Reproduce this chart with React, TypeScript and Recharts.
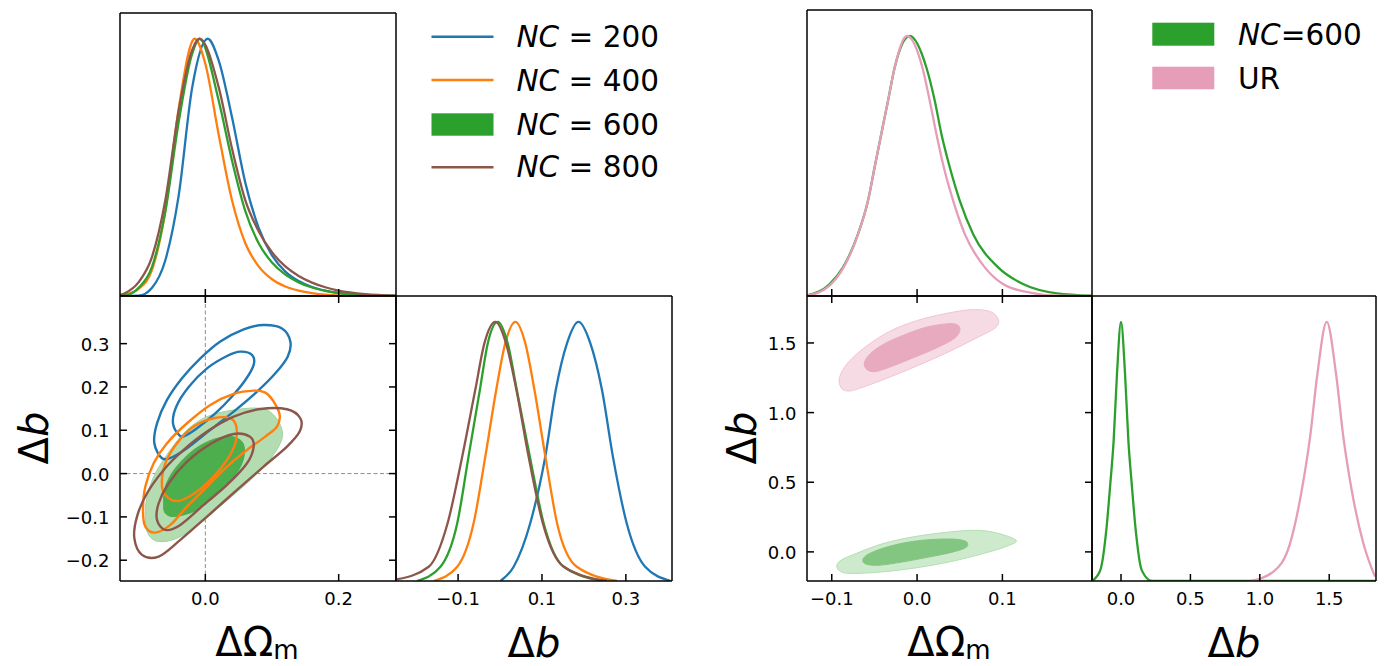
import React from 'react';
import { ComposedChart, Line, Scatter, XAxis, YAxis, ReferenceLine } from 'recharts';

type Pt = [number, number];
const FONT = '"DejaVu Sans", sans-serif';
const BLUE = '#1f77b4';
const ORANGE = '#ff7f0e';
const GREEN = '#2ca02c';
const BROWN = '#8c564b';
const PINK = '#e69db7';

// ---------- Left figure: 1D marginal of ΔΩm ----------
const omL_nc200: Pt[] = [[-0.128, 0], [-0.1, 0.001], [-0.08, 0.032], [-0.06, 0.139], [-0.04, 0.39], [-0.02, 0.806], [0.0035, 1], [0.02, 0.916], [0.04, 0.695], [0.06, 0.44], [0.08, 0.265], [0.1, 0.158], [0.12, 0.095], [0.14, 0.058], [0.16, 0.035], [0.18, 0.021], [0.2, 0.012], [0.24, 0.004], [0.286, 0]];
const omL_nc400: Pt[] = [[-0.128, 0.003], [-0.12, 0.006], [-0.1, 0.028], [-0.08, 0.102], [-0.06, 0.329], [-0.04, 0.728], [-0.016, 1], [0, 0.903], [0.02, 0.628], [0.04, 0.372], [0.06, 0.205], [0.08, 0.115], [0.1, 0.065], [0.12, 0.037], [0.14, 0.021], [0.16, 0.011], [0.18, 0.005], [0.22, 0.001], [0.286, 0]];
const omL_nc600: Pt[] = [[-0.128, 0.001], [-0.12, 0.002], [-0.1, 0.032], [-0.08, 0.113], [-0.06, 0.329], [-0.04, 0.676], [-0.02, 0.94], [-0.0085, 1], [0.02, 0.76], [0.04, 0.527], [0.06, 0.33], [0.08, 0.205], [0.1, 0.13], [0.12, 0.083], [0.14, 0.053], [0.16, 0.033], [0.18, 0.02], [0.2, 0.011], [0.24, 0.003], [0.286, 0]];
const omL_nc800: Pt[] = [[-0.128, 0.004], [-0.12, 0.012], [-0.1, 0.054], [-0.08, 0.152], [-0.06, 0.372], [-0.04, 0.72], [-0.02, 0.955], [-0.0085, 1], [0.02, 0.812], [0.04, 0.573], [0.06, 0.372], [0.08, 0.252], [0.1, 0.17], [0.12, 0.115], [0.14, 0.078], [0.16, 0.052], [0.18, 0.034], [0.2, 0.021], [0.24, 0.007], [0.286, 0.001]];

// ---------- Left figure: 1D marginal of Δb ----------
const bL_nc200: Pt[] = [[0.001, 0], [0.0325, 0.055], [0.072, 0.223], [0.108, 0.481], [0.133, 0.738], [0.16, 0.919], [0.187, 1], [0.215, 0.919], [0.243, 0.738], [0.269, 0.481], [0.302, 0.223], [0.346, 0.055], [0.406, 0.001]];
const bL_nc400: Pt[] = [[-0.158, 0], [-0.102, 0.055], [-0.063, 0.223], [-0.035, 0.481], [-0.009, 0.738], [0.0127, 0.919], [0.0365, 1], [0.06, 0.919], [0.082, 0.738], [0.108, 0.481], [0.136, 0.223], [0.183, 0.055], [0.279, 0]];
const bL_nc600: Pt[] = [[-0.198, 0], [-0.142, 0.055], [-0.102, 0.223], [-0.075, 0.481], [-0.048, 0.738], [-0.029, 0.919], [-0.0056, 1], [0.018, 0.919], [0.04, 0.738], [0.071, 0.481], [0.104, 0.223], [0.152, 0.055], [0.247, 0]];
const bL_nc800: Pt[] = [[-0.2476, 0.006], [-0.17, 0.055], [-0.125, 0.223], [-0.09, 0.481], [-0.059, 0.738], [-0.037, 0.919], [-0.011, 1], [0.014, 0.919], [0.039, 0.738], [0.068, 0.481], [0.102, 0.223], [0.152, 0.055], [0.255, 0]];

// ---------- Left figure: 2D contours (ΔΩm, Δb) ----------
const cL_nc200_outer: Pt[] = [[-0.065, 0.0354], [-0.0765, 0.07], [-0.0725, 0.116], [-0.0575, 0.17], [-0.035, 0.22], [-0.0075, 0.266], [0.0225, 0.305], [0.0575, 0.333], [0.0875, 0.343], [0.115, 0.335], [0.1275, 0.305], [0.1235, 0.27], [0.105, 0.2315], [0.0775, 0.189], [0.0425, 0.143], [0.0075, 0.101], [-0.0275, 0.0585], [-0.05, 0.0377]];
const cL_nc200_inner: Pt[] = [[-0.0385, 0.0877], [-0.0485, 0.116], [-0.0435, 0.155], [-0.025, 0.2], [0.0025, 0.243], [0.0325, 0.2715], [0.0525, 0.2815], [0.07, 0.274], [0.0725, 0.251], [0.06, 0.216], [0.04, 0.178], [0.015, 0.139], [-0.0125, 0.1046], [-0.03, 0.0877]];
const cL_nc400_outer: Pt[] = [[-0.0935, -0.0838], [-0.09, -0.03], [-0.0775, 0.0238], [-0.0575, 0.07], [-0.0275, 0.1162], [0.0075, 0.1585], [0.0425, 0.1838], [0.0725, 0.1915], [0.09, 0.1869], [0.1025, 0.1662], [0.1115, 0.1354], [0.1075, 0.1085], [0.09, 0.0854], [0.0625, 0.0546], [0.0325, 0.0162], [0.0025, -0.03], [-0.0275, -0.0762], [-0.0525, -0.1185], [-0.075, -0.1362], [-0.09, -0.1223]];
const cL_nc400_inner: Pt[] = [[-0.065, -0.03], [-0.06, 0.0238], [-0.0425, 0.07], [-0.0175, 0.1085], [0.0125, 0.1277], [0.0375, 0.1277], [0.0465, 0.1085], [0.045, 0.07], [0.0325, 0.0315], [0.0125, -0.0069], [-0.0125, -0.0415], [-0.0375, -0.0623], [-0.055, -0.0569]];
const cL_nc600_outer: Pt[] = [[-0.09, -0.1069], [-0.0875, -0.0531], [-0.075, 0.0008], [-0.0525, 0.0546], [-0.0275, 0.1008], [0.0025, 0.1315], [0.0425, 0.1469], [0.0825, 0.1508], [0.1025, 0.1354], [0.115, 0.1008], [0.1125, 0.07], [0.0925, 0.0238], [0.0625, -0.0223], [0.0275, -0.0685], [-0.0075, -0.1146], [-0.0425, -0.1492], [-0.07, -0.1569], [-0.085, -0.1415]];
const cL_nc600_inner: Pt[] = [[-0.0625, -0.0685], [-0.06, -0.03], [-0.045, 0.0123], [-0.0175, 0.0546], [0.0125, 0.0792], [0.04, 0.0854], [0.0565, 0.07], [0.0575, 0.0354], [0.045, -0.0031], [0.0175, -0.0454], [-0.0125, -0.0838], [-0.045, -0.0992], [-0.06, -0.0915]];
const cL_nc800_outer: Pt[] = [[-0.1065, -0.1492], [-0.1025, -0.0992], [-0.0875, -0.0454], [-0.0625, 0.0085], [-0.0325, 0.0546], [0.0025, 0.0969], [0.0425, 0.1315], [0.0825, 0.1492], [0.1225, 0.1485], [0.1425, 0.1277], [0.1415, 0.0969], [0.1225, 0.0623], [0.0875, 0.0162], [0.0475, -0.0377], [0.0025, -0.0992], [-0.0375, -0.1531], [-0.07, -0.1915], [-0.095, -0.1877]];
const cL_nc800_inner: Pt[] = [[-0.0725, -0.1069], [-0.07, -0.0685], [-0.055, -0.0223], [-0.0275, 0.0277], [0.0075, 0.0685], [0.0425, 0.0915], [0.0665, 0.0854], [0.0725, 0.0623], [0.0625, 0.0238], [0.0325, -0.0262], [-0.0025, -0.0723], [-0.0375, -0.1185], [-0.06, -0.13]];

// ---------- Right figure ----------
const omR_nc600: Pt[] = [[-0.129, 0.002], [-0.1027, 0.045], [-0.087, 0.109], [-0.0694, 0.237], [-0.0576, 0.365], [-0.0498, 0.494], [-0.042, 0.622], [-0.0341, 0.75], [-0.0263, 0.878], [-0.0086, 1], [0.011, 0.878], [0.0208, 0.75], [0.0286, 0.622], [0.0384, 0.494], [0.0502, 0.365], [0.0659, 0.237], [0.0953, 0.109], [0.1247, 0.045], [0.164, 0.01], [0.205, 0.001]];
const omR_ur: Pt[] = [[-0.129, 0.001], [-0.1027, 0.04], [-0.087, 0.105], [-0.0694, 0.235], [-0.0576, 0.365], [-0.0498, 0.494], [-0.042, 0.622], [-0.0341, 0.75], [-0.0263, 0.878], [-0.0118, 1], [0.0063, 0.878], [0.0149, 0.75], [0.0227, 0.622], [0.0314, 0.494], [0.0424, 0.365], [0.0561, 0.237], [0.0796, 0.109], [0.1012, 0.045], [0.1325, 0.013], [0.164, 0.001], [0.205, 0]];
const bR_nc600: Pt[] = [[-0.209, 0], [-0.149, 0.042], [-0.106, 0.196], [-0.077, 0.376], [-0.053, 0.542], [-0.029, 0.8], [0, 1], [0.029, 0.8], [0.053, 0.542], [0.077, 0.376], [0.106, 0.196], [0.149, 0.042], [0.223, 0], [1.837, 0]];
const bR_ur: Pt[] = [[0.93, 0], [1.098, 0.036], [1.218, 0.145], [1.302, 0.35], [1.362, 0.555], [1.415, 0.8], [1.482, 1], [1.549, 0.8], [1.602, 0.555], [1.662, 0.35], [1.746, 0.145], [1.83, 0.017]];
const cR_ur_outer: Pt[] = [[-0.089, 1.1786], [-0.091, 1.25], [-0.0812, 1.357], [-0.0596, 1.476], [-0.0322, 1.583], [-0.0008, 1.6595], [0.0306, 1.707], [0.062, 1.738], [0.0855, 1.726], [0.0953, 1.667], [0.0914, 1.607], [0.0698, 1.536], [0.0345, 1.4286], [-0.0008, 1.3333], [-0.0361, 1.245], [-0.0675, 1.174], [-0.0812, 1.155]];
const cR_ur_inner: Pt[] = [[-0.0616, 1.333], [-0.0576, 1.405], [-0.04, 1.488], [-0.0125, 1.564], [0.0149, 1.619], [0.0424, 1.638], [0.0502, 1.602], [0.0443, 1.536], [0.0227, 1.464], [-0.0047, 1.393], [-0.0322, 1.326], [-0.0518, 1.293]];
const cR_nc600_outer: Pt[] = [[-0.0941, -0.1024], [-0.089, -0.0595], [-0.0714, -0.0119], [-0.04, 0.0595], [-0.0008, 0.1119], [0.0384, 0.1429], [0.0698, 0.1548], [0.0933, 0.1357], [0.1161, 0.0833], [0.1051, 0.0405], [0.0776, -0.0119], [0.0384, -0.0714], [-0.0008, -0.1143], [-0.04, -0.1429], [-0.0753, -0.1548], [-0.089, -0.1429]];
const cR_nc600_inner: Pt[] = [[-0.0635, -0.0548], [-0.0557, -0.0119], [-0.0322, 0.0405], [-0.0008, 0.0786], [0.0345, 0.0929], [0.0561, 0.0786], [0.058, 0.0357], [0.0424, 0], [0.0149, -0.0357], [-0.0165, -0.0714], [-0.0439, -0.0952], [-0.0596, -0.0881]];

// ---------- axes ----------
const omL_domain: [number, number] = [-0.128, 0.286];
const bL_domain: [number, number] = [-0.248, 0.41];
const omR_domain: [number, number] = [-0.129, 0.205];
const bR_domain: [number, number] = [-0.209, 1.837];
const pdf_domain: [number, number] = [0, 1.1];
const pdf_ticks = [0.5];
const omL_ticks = [0, 0.2];
const bL_ticks2d = [-0.2, -0.1, 0, 0.1, 0.2, 0.3];
const bL_ticks1d = [-0.1, 0.1, 0.3];
const omR_ticks = [-0.1, 0, 0.1];
const bR_ticks = [0, 0.5, 1, 1.5];
const legendL = ['200', '400', '600', '800'];

const toObj = (a: Pt[]) => a.map(([x, y]) => ({ x, y }));
const fmt = (v: number) => (v < 0 ? '\u2212' : '') + Math.abs(v).toFixed(1);

function closedPath(pts: { x: number; y: number }[]) {
  const n = pts.length;
  if (!n) return '';
  let d = `M${pts[0].x},${pts[0].y}`;
  for (let i = 0; i < n; i++) {
    const p0 = pts[(i - 1 + n) % n], p1 = pts[i], p2 = pts[(i + 1) % n], p3 = pts[(i + 2) % n];
    const c1x = p1.x + (p2.x - p0.x) / 6, c1y = p1.y + (p2.y - p0.y) / 6;
    const c2x = p2.x - (p3.x - p1.x) / 6, c2y = p2.y - (p3.y - p1.y) / 6;
    d += `C${c1x},${c1y} ${c2x},${c2y} ${p2.x},${p2.y}`;
  }
  return d + 'Z';
}

const contour = (stroke: string, fill: string, sw: number) => (props: any) => (
  <path d={closedPath(props.points || [])} stroke={stroke} fill={fill} strokeWidth={sw} />
);
const noDot = () => <g />;

const TK = 7;
const TSW = 1.5;
const TFS = 18;
// inward tick marks (and outside labels) drawn at the positions the axis gives
const mkTick = (side: 'b' | 'l' | 't' | 'r', showLine: boolean, showLabel: boolean) => (props: any) => {
  const { x, y, payload } = props;
  const v = payload ? payload.value : 0;
  if (side === 'b') {
    return (
      <g>
        {showLine && <line x1={x} x2={x} y1={y} y2={y - TK} stroke="#000" strokeWidth={TSW} />}
        {showLabel && <text x={x} y={y + 24} textAnchor="middle" fontSize={TFS} fontFamily={FONT} fill="#000">{fmt(v)}</text>}
      </g>
    );
  }
  if (side === 'l') {
    return (
      <g>
        {showLine && <line x1={x} x2={x + TK} y1={y} y2={y} stroke="#000" strokeWidth={TSW} />}
        {showLabel && <text x={x - 10.5} y={y + 7} textAnchor="end" fontSize={TFS} fontFamily={FONT} fill="#000">{fmt(v)}</text>}
      </g>
    );
  }
  if (side === 't') {
    return <g>{showLine && <line x1={x} x2={x} y1={y} y2={y + TK} stroke="#000" strokeWidth={TSW} />}</g>;
  }
  return <g>{showLine && <line x1={x} x2={x - TK} y1={y} y2={y} stroke="#000" strokeWidth={TSW} />}</g>;
};

const AX = { stroke: '#000', strokeWidth: 1.5 };

function Panel(p: {
  x: number; y: number; w: number; h: number;
  xd: [number, number]; yd: [number, number];
  xt: number[]; yt: number[];
  xLab: boolean; full: boolean; children?: React.ReactNode;
}) {
  const ML = 80, MT = 10, MR = 10, MB = 40;
  return (
    <div style={{ position: 'absolute', left: p.x - ML, top: p.y - MT }}>
      <ComposedChart width={p.w + ML + MR} height={p.h + MT + MB} margin={{ top: MT - 1, right: MR - 1, bottom: 0, left: 0 }}>
        <XAxis xAxisId="b" type="number" dataKey="x" domain={p.xd} allowDataOverflow ticks={p.xt} interval={0} height={MB}
          axisLine={AX} tickLine={false} tickSize={0} tickMargin={0} tick={mkTick('b', true, p.xLab)} />
        <XAxis xAxisId="t" orientation="top" type="number" dataKey="x" domain={p.xd} allowDataOverflow ticks={p.xt} interval={0} height={1}
          axisLine={AX} tickLine={false} tickSize={0} tickMargin={0} tick={mkTick('t', p.full, false)} />
        <YAxis yAxisId="l" type="number" dataKey="y" domain={p.yd} allowDataOverflow ticks={p.yt} interval={0} width={ML}
          axisLine={AX} tickLine={false} tickSize={0} tickMargin={0} tick={mkTick('l', p.full, p.full)} />
        <YAxis yAxisId="r" orientation="right" type="number" dataKey="y" domain={p.yd} allowDataOverflow ticks={p.yt} interval={0} width={1}
          axisLine={AX} tickLine={false} tickSize={0} tickMargin={0} tick={mkTick('r', p.full, false)} />
        {p.children}
      </ComposedChart>
    </div>
  );
}

const curve = (data: Pt[], color: string, key: string) => (
  <Line key={key} xAxisId="b" yAxisId="l" data={toObj(data)} dataKey="y" type="monotone" stroke={color} strokeWidth={2.3}
    dot={false} activeDot={false} isAnimationActive={false} />
);
const filled = (data: Pt[], stroke: string, fill: string, sw: number, key: string) => (
  <Scatter key={key} xAxisId="b" yAxisId="l" data={toObj(data)} line={contour(stroke, fill, sw)} shape={noDot}
    fill={fill} isAnimationActive={false} />
);

export default function App() {
  const legColors = [BLUE, ORANGE, GREEN, BROWN];
  const legY = [36.7, 80, 124.5, 167.3];
  const legBase = [47.3, 90.7, 134.5, 177];
  return (
    <div style={{ position: 'absolute', left: 0, top: 0, width: 1386, height: 666, background: '#fff', overflow: 'hidden', fontFamily: FONT }}>
      {/* Left figure */}
      <Panel x={120} y={13} w={276} h={283} xd={omL_domain} yd={pdf_domain} xt={omL_ticks} yt={pdf_ticks} xLab={false} full={false}>
        {curve(omL_nc200, BLUE, 'a')}
        {curve(omL_nc400, ORANGE, 'b')}
        {curve(omL_nc600, GREEN, 'c')}
        {curve(omL_nc800, BROWN, 'd')}
      </Panel>
      <Panel x={120} y={296} w={276} h={285} xd={omL_domain} yd={bL_domain} xt={omL_ticks} yt={bL_ticks2d} xLab full>
        {filled(cL_nc600_outer, '#9fd49f', '#b3dcb1', 1, 'g1')}
        {filled(cL_nc600_inner, '#4cae4c', '#4cae4c', 1, 'g2')}
        {filled(cL_nc200_outer, BLUE, 'none', 2.4, 'b1')}
        {filled(cL_nc200_inner, BLUE, 'none', 2.4, 'b2')}
        {filled(cL_nc400_outer, ORANGE, 'none', 2.4, 'o1')}
        {filled(cL_nc400_inner, ORANGE, 'none', 2.4, 'o2')}
        {filled(cL_nc800_outer, BROWN, 'none', 2.4, 'r1')}
        {filled(cL_nc800_inner, BROWN, 'none', 2.4, 'r2')}
        <ReferenceLine xAxisId="b" yAxisId="l" x={0} stroke="#8c8c8c" strokeWidth={1} strokeDasharray="4 2.5" />
        <ReferenceLine xAxisId="b" yAxisId="l" y={0} stroke="#8c8c8c" strokeWidth={1} strokeDasharray="4 2.5" />
      </Panel>
      <Panel x={396} y={296} w={276} h={285} xd={bL_domain} yd={pdf_domain} xt={bL_ticks1d} yt={pdf_ticks} xLab full={false}>
        {curve(bL_nc200, BLUE, 'a')}
        {curve(bL_nc400, ORANGE, 'b')}
        {curve(bL_nc600, GREEN, 'c')}
        {curve(bL_nc800, BROWN, 'd')}
      </Panel>

      {/* Right figure */}
      <Panel x={807} y={10} w={285} h={286} xd={omR_domain} yd={pdf_domain} xt={omR_ticks} yt={pdf_ticks} xLab={false} full={false}>
        {curve(omR_nc600, GREEN, 'a')}
        {curve(omR_ur, PINK, 'b')}
      </Panel>
      <Panel x={807} y={296} w={285} h={285} xd={omR_domain} yd={bR_domain} xt={omR_ticks} yt={bR_ticks} xLab full>
        {filled(cR_ur_outer, '#f0c6d4', '#f6dbe4', 1, 'p1')}
        {filled(cR_ur_inner, '#e8aabf', '#e8aabf', 1, 'p2')}
        {filled(cR_nc600_outer, '#b4dfb4', '#cdeacd', 1, 'g1')}
        {filled(cR_nc600_inner, '#82c682', '#82c682', 1, 'g2')}
      </Panel>
      <Panel x={1092} y={296} w={284} h={285} xd={bR_domain} yd={pdf_domain} xt={bR_ticks} yt={pdf_ticks} xLab full={false}>
        {curve(bR_nc600, GREEN, 'a')}
        {curve(bR_ur, PINK, 'b')}
      </Panel>

      <svg width={1386} height={666} style={{ position: 'absolute', left: 0, top: 0, pointerEvents: 'none' }} fontFamily={FONT}>
        {/* left legend */}
        {legendL.map((lab, i) => (
          <g key={lab}>
            {i === 2 ? (
              <rect x={431.5} y={113.3} width={62} height={22.4} fill={GREEN} />
            ) : (
              <line x1={431.5} x2={493.5} y1={legY[i]} y2={legY[i]} stroke={legColors[i]} strokeWidth={2.6} />
            )}
            <text x={516.5} y={legBase[i]} fontSize={29.5} fill="#000">
              <tspan fontStyle="italic">NC</tspan> = {lab}
            </text>
          </g>
        ))}
        {/* right legend */}
        <rect x={1152.3} y={22.7} width={62} height={23} fill={GREEN} />
        <rect x={1152.3} y={66.7} width={62} height={22.6} fill={PINK} />
        <text x={1238} y={45} fontSize={29.5} fill="#000"><tspan fontStyle="italic">NC</tspan>=600</text>
        <text x={1238} y={89.3} fontSize={29.5} fill="#000">UR</text>

        {/* axis labels */}
        <text x={257} y={656} fontSize={40} textAnchor="middle" fill="#000">ΔΩ<tspan fontSize={26} dy={3}>m</tspan></text>
        <text x={534} y={657} fontSize={40} textAnchor="middle" fill="#000">Δ<tspan fontStyle="italic">b</tspan></text>
        <text x={949} y={656} fontSize={40} textAnchor="middle" fill="#000">ΔΩ<tspan fontSize={26} dy={3}>m</tspan></text>
        <text x={1234} y={657} fontSize={40} textAnchor="middle" fill="#000">Δ<tspan fontStyle="italic">b</tspan></text>
        <text transform="translate(48,438) rotate(-90)" fontSize={40} textAnchor="middle" fill="#000">Δ<tspan fontStyle="italic">b</tspan></text>
        <text transform="translate(756,438) rotate(-90)" fontSize={40} textAnchor="middle" fill="#000">Δ<tspan fontStyle="italic">b</tspan></text>
      </svg>
    </div>
  );
}
